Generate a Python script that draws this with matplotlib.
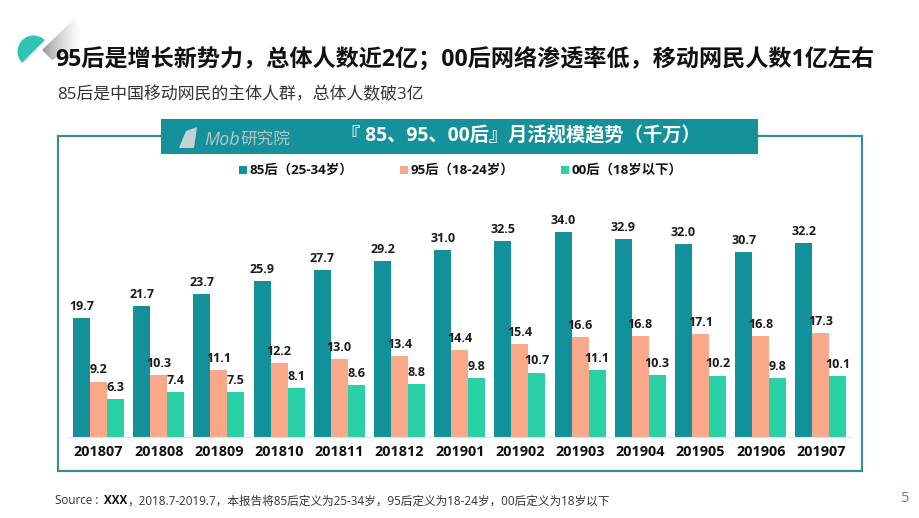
import numpy as np
import matplotlib
matplotlib.use("Agg")
import matplotlib.pyplot as plt
from matplotlib.patches import Rectangle, Wedge, Polygon

plt.rcParams['font.family'] = ['Open Sans', 'Noto Sans CJK SC', 'DejaVu Sans']

months = ["201807", "201808", "201809", "201810", "201811", "201812", "201901",
          "201902", "201903", "201904", "201905", "201906", "201907"]
gen85 = [19.7, 21.7, 23.7, 25.9, 27.7, 29.2, 31.0, 32.5, 34.0, 32.9, 32.0, 30.7, 32.2]
gen95 = [9.2, 10.3, 11.1, 12.2, 13.0, 13.4, 14.4, 15.4, 16.6, 16.8, 17.1, 16.8, 17.3]
gen00 = [6.3, 7.4, 7.5, 8.1, 8.6, 8.8, 9.8, 10.7, 11.1, 10.3, 10.2, 9.8, 10.1]
series_names = ["85后（25-34岁）", "95后（18-24岁）", "00后（18岁以下）"]
colors = ["#12919B", "#F9A98A", "#2AD0A6"]

W, H = 920, 518
fig = plt.figure(figsize=(W / 100, H / 100), dpi=100, facecolor="white")

# background layer in pixel coords
bg = fig.add_axes([0, 0, 1, 1])
bg.set_xlim(0, W)
bg.set_ylim(H, 0)
bg.axis("off")

# corner decoration: grey fade plus teal half disc
shade = np.linspace(1, 0, 64).reshape(1, -1) * np.ones((64, 64))
im = bg.imshow(shade, extent=(40, 82, 62, 18), cmap="Greys", vmin=0, vmax=1.9,
               aspect="auto", zorder=1)
im.set_clip_path(Polygon([(42, 50), (74, 19), (80, 28), (80, 46), (52, 60)], transform=bg.transData))
bg.set_xlim(0, W)
bg.set_ylim(H, 0)
bg.add_patch(Wedge((33.5, 51.5), 16, 135, 315, color="#2FC4B2", lw=0, zorder=2))

# frame and title bar
bg.add_patch(Rectangle((58, 136), 804, 335, fill=False, ec="#3A8D97", lw=1.6))
bg.add_patch(Rectangle((161, 119), 597, 35, color="#14919B", lw=0))
bg.text(204, 140, "Mob", color="#B4C6C6", fontsize=13, style="italic", ha="left", va="center")
bg.text(240, 140, "研究院", color="#B4C6C6", fontsize=12, ha="left", va="center")
bg.add_patch(Polygon([(179, 148), (186, 131), (197, 127), (194, 148)], color="#C4D2D2", lw=0))
bg.text(341, 136.5, "『 85、95、00后』月活规模趋势（千万）", color="white", fontsize=13.9,
        fontweight="bold", ha="left", va="center")

# headings
bg.text(55, 61, "95后是增长新势力，总体人数近2亿；00后网络渗透率低，移动网民人数1亿左右",
        color="#111111", fontsize=16.65, fontweight="bold", ha="left", va="center")
bg.text(57, 95, "85后是中国移动网民的主体人群，总体人数破3亿", color="#333333", fontsize=12.2,
        ha="left", va="center")

# legend
for x, c, name in zip([239, 400, 561], colors, series_names):
    bg.add_patch(Rectangle((x, 166), 8, 8, color=c, lw=0))
    bg.text(x + 11, 170, name, color="#111111", fontsize=9.6, fontweight="bold", ha="left", va="center")

# footer
bg.text(55, 501, "Source :", color="#333333", fontsize=8.4, ha="left", va="center")
bg.text(104, 501, "XXX", color="#111111", fontsize=8.4, fontweight="bold", ha="left", va="center")
bg.text(127, 501, "，2018.7-2019.7，本报告将85后定义为25-34岁，95后定义为18-24岁，00后定义为18岁以下",
        color="#333333", fontsize=8.4, ha="left", va="center")
bg.text(905, 498, "5", color="#4F8E9A", fontsize=10.5, ha="center", va="center")

# bars
ax = fig.add_axes([68.4 / W, 1 - 437 / H, 782.6 / W, 241 / H])
ax.patch.set_alpha(0)
x = np.arange(len(months))
bw = 0.283
for offset, vals, c in zip([-bw, 0, bw], [gen85, gen95, gen00], colors):
    bars = ax.bar(x + offset, vals, bw, color=c, lw=0)
    for b, v in zip(bars, vals):
        ax.text(b.get_x() + b.get_width() / 2, v + 0.85, f"{v:.1f}", ha="center", va="bottom",
                fontsize=9, fontweight="bold", color="#1A1A1A")
ax.set_xlim(-0.5, 12.5)
ax.set_ylim(0, 40)
ax.set_xticks(x)
ax.set_xticklabels(months, fontsize=10.4, fontweight="bold", color="#111111")
ax.tick_params(axis="x", length=0, pad=6)
ax.set_yticks([])
for s in ["top", "left", "right"]:
    ax.spines[s].set_visible(False)
ax.spines["bottom"].set_color("#E3E3E3")
ax.spines["bottom"].set_linewidth(0.8)

fig.savefig("out.png", dpi=100)
